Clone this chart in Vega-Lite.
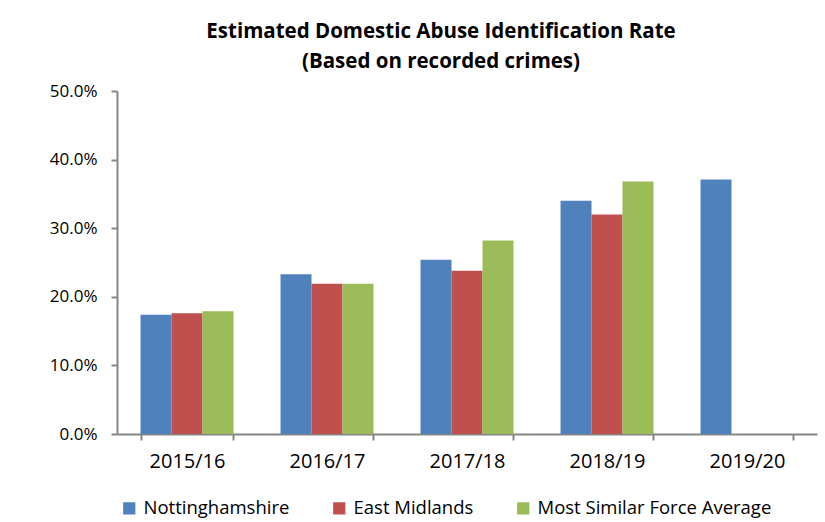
{
  "$schema": "https://vega.github.io/schema/vega-lite/v6.json",
  "autosize": "none",
  "width": 700,
  "height": 343,
  "padding": {"left": 117, "top": 91, "right": 8, "bottom": 88},
  "background": "white",
  "title": {
    "text": ["Estimated Domestic Abuse Identification Rate", "(Based on recorded crimes)"],
    "font": "Open Sans",
    "fontSize": 20.5,
    "fontWeight": "bold",
    "color": "#000000",
    "anchor": "middle",
    "dx": -26,
    "offset": 10,
    "lineHeight": 30
  },
  "data": {
    "values": [
      {"year": "2015/16", "series": "Nottinghamshire", "rate": 0.174},
      {"year": "2015/16", "series": "East Midlands", "rate": 0.176},
      {"year": "2015/16", "series": "Most Similar Force Average", "rate": 0.179},
      {"year": "2016/17", "series": "Nottinghamshire", "rate": 0.233},
      {"year": "2016/17", "series": "East Midlands", "rate": 0.219},
      {"year": "2016/17", "series": "Most Similar Force Average", "rate": 0.219},
      {"year": "2017/18", "series": "Nottinghamshire", "rate": 0.254},
      {"year": "2017/18", "series": "East Midlands", "rate": 0.238},
      {"year": "2017/18", "series": "Most Similar Force Average", "rate": 0.282},
      {"year": "2018/19", "series": "Nottinghamshire", "rate": 0.340},
      {"year": "2018/19", "series": "East Midlands", "rate": 0.320},
      {"year": "2018/19", "series": "Most Similar Force Average", "rate": 0.368},
      {"year": "2019/20", "series": "Nottinghamshire", "rate": 0.371}
    ]
  },
  "mark": {"type": "bar"},
  "encoding": {
    "x": {
      "field": "year",
      "type": "nominal",
      "sort": null,
      "scale": {"paddingInner": 0.336, "paddingOuter": 0.168},
      "axis": {
        "title": null,
        "labelAngle": 0,
        "labelFont": "Open Sans",
        "labelFontSize": 20,
        "labelColor": "#000000",
        "labelPadding": 11,
        "domainColor": "#868686",
        "domainWidth": 2,
        "tickColor": "#868686",
        "tickWidth": 2,
        "tickSize": 6,
        "tickBand": "extent"
      }
    },
    "xOffset": {
      "field": "series",
      "type": "nominal",
      "sort": ["Nottinghamshire", "East Midlands", "Most Similar Force Average"],
      "scale": {"paddingInner": 0, "paddingOuter": 0}
    },
    "y": {
      "field": "rate",
      "type": "quantitative",
      "scale": {"domain": [0, 0.5], "nice": false},
      "axis": {
        "title": null,
        "format": ".1%",
        "values": [0, 0.1, 0.2, 0.3, 0.4, 0.5],
        "grid": false,
        "labelFont": "Open Sans",
        "labelFontSize": 17,
        "labelColor": "#000000",
        "labelPadding": 14,
        "domainColor": "#868686",
        "domainWidth": 2,
        "tickColor": "#868686",
        "tickWidth": 2,
        "tickSize": 6
      }
    },
    "color": {
      "field": "series",
      "type": "nominal",
      "sort": ["Nottinghamshire", "East Midlands", "Most Similar Force Average"],
      "scale": {
        "domain": ["Nottinghamshire", "East Midlands", "Most Similar Force Average"],
        "range": ["#4F81BD", "#C0504D", "#9BBB59"]
      },
      "legend": {
        "title": null,
        "orient": "none",
        "direction": "horizontal",
        "legendX": 3,
        "legendY": 408,
        "symbolType": "square",
        "symbolSize": 150,
        "symbolStrokeWidth": 0,
        "labelFont": "Open Sans",
        "labelFontSize": 18.5,
        "labelLimit": 0,
        "labelColor": "#000000",
        "columnPadding": 40,
        "labelOffset": 5
      }
    }
  },
  "config": {"view": {"stroke": null}}
}
